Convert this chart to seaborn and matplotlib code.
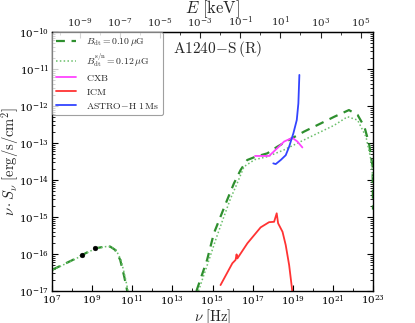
import numpy as np
import pandas as pd
import seaborn as sns
from matplotlib import pyplot as plt
from matplotlib.ticker import FixedLocator, LogLocator, NullFormatter

# log10(nu [Hz]) and log10(nu*S_nu [erg/s/cm^2])
radio_lognu = [7.0, 8.0, 8.5, 9.12, 9.65, 9.9, 10.15, 10.4, 10.6, 10.75]
radio_logs = [-16.43, -16.17, -16.03, -15.85, -15.8, -15.8, -15.89, -16.16, -16.61, -17.0]

dash_lognu = [14.2, 14.73, 15.07, 15.4, 15.73, 16.07, 16.4, 16.73, 17.15, 17.73,
              18.23, 18.9, 19.57, 20.4, 21.07, 21.8, 22.23, 22.57, 22.8, 22.98, 23.0]
dash_logs = [-17.0, -16.16, -15.44, -14.99, -14.54, -14.09, -13.73, -13.46, -13.37, -13.28,
             -13.1, -12.89, -12.69, -12.47, -12.29, -12.11, -12.24, -12.56, -13.01, -13.64, -14.8]

dot_lognu = [14.3, 14.8, 15.2, 15.57, 15.9, 16.23, 16.57, 17.1, 17.73, 18.55,
             19.4, 20.23, 21.07, 21.73, 22.23, 22.65, 22.9, 23.0]
dot_logs = [-17.0, -16.2, -15.55, -14.99, -14.5, -14.09, -13.64, -13.45, -13.37, -13.19,
            -12.96, -12.74, -12.52, -12.29, -12.38, -12.83, -13.46, -14.0]

cxb_lognu = [17.12, 17.82, 18.23, 18.57, 18.98, 19.23, 19.48]
cxb_logs = [-13.35, -13.35, -13.14, -12.96, -12.86, -12.96, -13.12]

icm_lognu = [15.4, 15.99, 16.15, 16.2, 16.24, 16.74, 17.4, 17.82, 18.07, 18.2,
             18.27, 18.49, 18.65, 18.82, 18.95, 18.98]
icm_logs = [-16.84, -16.25, -16.16, -16.01, -16.12, -15.71, -15.28, -15.14, -15.13, -14.9,
            -15.17, -15.4, -15.76, -16.3, -16.88, -17.03]

astro_lognu = [18.03, 18.15, 18.4, 18.65, 18.82, 19.03, 19.2, 19.28, 19.33]
astro_logs = [-13.55, -13.57, -13.46, -13.33, -13.1, -12.74, -12.38, -11.93, -11.16]

obs_lognu = [8.51, 9.146]
obs_logs = [-16.02, -15.83]

nu_tick_exps = [7, 9, 11, 13, 15, 17, 19, 21, 23]
e_tick_exps = [-9, -7, -5, -3, -1, 1, 3, 5]

H_KEV = 4.135667e-18  # keV s


def frame(lognu, logs):
    return pd.DataFrame({"nu": 10.0 ** np.array(lognu), "s": 10.0 ** np.array(logs)})


def plot_sed() -> None:
    sns.set_style("ticks")
    plt.rcParams["font.family"] = ["DejaVu Serif"]
    plt.rcParams["mathtext.fontset"] = "cm"
    plt.rcParams["xtick.direction"] = "in"
    plt.rcParams["ytick.direction"] = "in"

    fig = plt.figure(figsize=(4.15, 3.23), dpi=100)
    ax = fig.add_axes([0.1253, 0.0991, 0.7735, 0.8018])
    ax.set_xscale("log")
    ax.set_yscale("log")

    green = "#2e8f2e"
    light = "#6abf6a"
    kw = dict(x="nu", y="s", sort=False, estimator=None, ax=ax)
    sns.lineplot(data=frame(dash_lognu, dash_logs), color=green, lw=1.6,
                 linestyle=(0, (4, 3)),
                 label=r"$B_{\rm dt}=0.10\,\mu{\rm G}$", **kw)
    sns.lineplot(data=frame(dot_lognu, dot_logs), color=light, lw=1.1,
                 linestyle=(0, (1, 1.5)),
                 label=r"$B_{\rm dt}^{\rm s/n}=0.12\,\mu{\rm G}$", **kw)
    sns.lineplot(data=frame(radio_lognu, radio_logs), color=green, lw=1.6,
                 linestyle=(0, (4, 3)), **kw)
    sns.lineplot(data=frame([v + 0.04 for v in radio_lognu], radio_logs), color=light,
                 lw=1.1, linestyle=(0, (1, 1.5)), **kw)
    sns.lineplot(data=frame(cxb_lognu, cxb_logs), color="#ff44ff", lw=1.3,
                 label=r"$\rm CXB$", **kw)
    sns.lineplot(data=frame(icm_lognu, icm_logs), color="#ff3333", lw=1.3,
                 label=r"$\rm ICM$", **kw)
    sns.lineplot(data=frame(astro_lognu, astro_logs), color="#3344ff", lw=1.3,
                 label=r"$\rm ASTRO\!-\!H\ 1\,Ms$", **kw)
    sns.scatterplot(data=frame(obs_lognu, obs_logs), x="nu", y="s", color="black",
                    s=12, edgecolor="black", zorder=5, ax=ax)

    ax.set_xlim(1e7, 1e23)
    ax.set_ylim(1e-17, 1e-10)
    ax.xaxis.set_major_locator(FixedLocator([10.0 ** e for e in nu_tick_exps]))
    ax.xaxis.set_minor_locator(FixedLocator([10.0 ** e for e in range(8, 23, 2)]))
    ax.xaxis.set_minor_formatter(NullFormatter())
    ax.yaxis.set_major_locator(LogLocator(base=10.0, numticks=20))
    ax.yaxis.set_minor_locator(LogLocator(base=10.0, subs=np.arange(2, 10), numticks=20))
    ax.yaxis.set_minor_formatter(NullFormatter())
    ax.tick_params(which="both", right=True, labelsize=7.5, colors="black", pad=2)
    ax.tick_params(which="major", length=4)
    ax.tick_params(which="minor", length=2)
    for sp in ax.spines.values():
        sp.set_color("black")
        sp.set_linewidth(1.0)

    top = ax.secondary_xaxis("top", functions=(lambda x: x * H_KEV, lambda e: e / H_KEV))
    top.xaxis.set_major_locator(FixedLocator([10.0 ** e for e in e_tick_exps]))
    top.xaxis.set_minor_locator(FixedLocator([10.0 ** e for e in range(-10, 6, 2)]))
    top.xaxis.set_minor_formatter(NullFormatter())
    top.tick_params(which="both", direction="in", labelsize=7.5, pad=2)
    top.tick_params(which="major", length=4)
    top.tick_params(which="minor", length=2)
    top.set_xlabel(r"$E\ [\rm keV]$", fontsize=12, labelpad=1)

    ax.set_xlabel(r"$\nu\ [\rm Hz]$", fontsize=10.5, labelpad=-1)
    ax.set_ylabel(r"$\nu\cdot S_\nu\ [\rm erg/s/cm^2]$", fontsize=10.5, labelpad=-2)
    ax.text(10 ** 15.25, 10 ** -10.45, r"$\rm A1240\!-\!S\,(R)$", fontsize=11,
            ha="center", va="center")

    leg = ax.legend(loc="upper left", fontsize=7, frameon=True, fancybox=True,
                    handlelength=2.0, borderpad=0.45, labelspacing=0.4,
                    borderaxespad=0.0, handletextpad=1.0)
    leg.get_frame().set_edgecolor("#888888")
    leg.get_frame().set_linewidth(0.8)

    fig.savefig("out.png", dpi=100)


if __name__ == "__main__":
    plot_sed()
